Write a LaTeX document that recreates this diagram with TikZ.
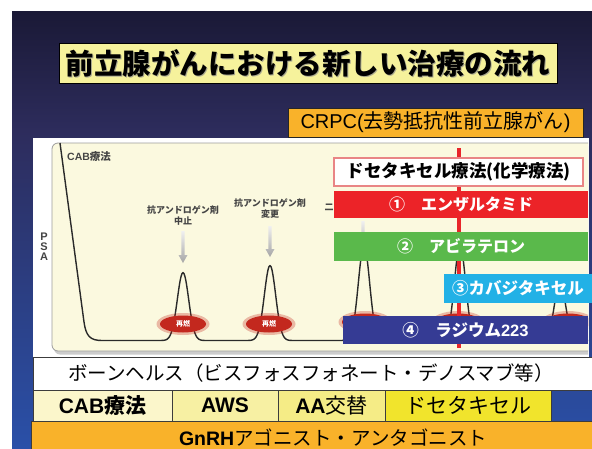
\documentclass[tikz,border=0pt]{standalone}
\usepackage{fontspec}
\setmainfont{Noto Sans CJK JP}
\newfontfamily\jp{Noto Sans CJK JP}
\newfontfamily\lat{Liberation Sans}
\usetikzlibrary{shapes.geometric}
\definecolor{bgA}{HTML}{1A1936}
\definecolor{bgB}{HTML}{2D2C5C}
\definecolor{bgC}{HTML}{2A50A8}
\definecolor{titleY}{HTML}{F6F29C}
\definecolor{crpcO}{HTML}{F9B22A}
\definecolor{creamP}{HTML}{FBF9DF}
\definecolor{panelG}{HTML}{9C9C9C}
\definecolor{curveK}{HTML}{2A2A2A}
\definecolor{relR}{HTML}{C3281E}
\definecolor{lblG}{HTML}{454545}
\definecolor{vRed}{HTML}{E8262A}
\definecolor{docB}{HTML}{E98585}
\definecolor{barR}{HTML}{EC2328}
\definecolor{barG}{HTML}{5AB94B}
\definecolor{barC}{HTML}{22B1E6}
\definecolor{barN}{HTML}{353B94}
\definecolor{cellA}{HTML}{FBF6CB}
\definecolor{cellB}{HTML}{F7F0A3}
\definecolor{cellC}{HTML}{F5EC86}
\definecolor{cellD}{HTML}{F1E42C}
\definecolor{edgeK}{HTML}{3C3C3C}
\newcommand\fsz[2]{\fontsize{#1}{#2}\selectfont}
\newcommand\grayarrow[3]{\shade[top color=gray!12, bottom color=gray!70]
  ({#1-1.7},#2) -- ({#1+1.7},#2) -- ({#1+1.7},{#3-8}) -- ({#1+4.5},{#3-8}) --
  (#1,#3) -- ({#1-4.5},{#3-8}) -- ({#1-1.7},{#3-8}) -- cycle;}
\begin{document}
\begin{tikzpicture}[x=1pt,y=-1pt,
  boxn/.style={rectangle, inner sep=0pt, outer sep=0pt},
  barbox/.style={boxn, text=white, font={\jp\bfseries\fsz{16}{16}}},
  cell/.style={boxn, draw=edgeK, line width=0.8pt, minimum height=31pt, font={\jp\fsz{21}{21}}},
  lbl/.style={font={\jp\bfseries\fsz{9}{11}}, text=lblG, align=center, inner sep=0pt},
  relapse/.style={ellipse, fill=relR, minimum width=46pt, minimum height=17pt, inner sep=0pt, text=white, font={\jp\bfseries\fsz{7}{7}}},
  glow/.style={ellipse, fill=relR, opacity=0.3, minimum width=53pt, minimum height=22pt, inner sep=0pt},
  curve/.style={draw=curveK, line width=1.4pt, line join=round}]
\useasboundingbox (0,0) rectangle (592,448);
\fill[white] (0,0) rectangle (592,448);
% background
\shade[top color=bgA, bottom color=bgB] (12,11) rectangle (592,130.5);
\shade[top color=bgB, bottom color=bgC] (12,130) rectangle (592,448);
% title
\node[boxn, draw=black, line width=1pt, fill=titleY, minimum width=498pt, minimum height=40pt] (title) at (308,63) {};
\node[text=black!45, opacity=0.7, font={\jp\bfseries\fsz{28.5}{28.5}}] (titleshadow) at (309.2,64.4) {前立腺がんにおける新しい治療の流れ};
\node[text=black, font={\jp\bfseries\fsz{28.5}{28.5}}] (titletext) at (title.center) {前立腺がんにおける新しい治療の流れ};
% CRPC
\node[boxn, draw=black!85, line width=1pt, fill=crpcO, minimum width=295pt, minimum height=29pt, font={\jp\fsz{20}{20}}] (crpc) at (435.5,122.5) {{\lat CRPC(}去勢抵抗性前立腺がん{\lat )}};
% white panel
\fill[white] (33,138) rectangle (589,357);
\begin{scope}
\clip (33,138) rectangle (588,357);
\fill[gray!40, rounded corners=6pt] (54,146) rectangle (600,354.5);
\filldraw[fill=creamP, draw=panelG, line width=0.8pt, rounded corners=6pt] (52,143) rectangle (600,351);
\node[anchor=west, inner sep=0pt, text=lblG, font={\bfseries\fsz{10.5}{10.5}}] (cab) at (67,157) {{\lat CAB}療法};
\node[inner sep=0pt, text=lblG, align=center, font={\lat\bfseries\fsz{11}{10}}] (psa) at (44,247) {P\\S\\A};
% PSA curve
\draw[curve] (60,143) -- (84,322) .. controls (86,336) and (90,340.5) .. (102,340.5)
  -- plot[domain=157:209, samples=53, smooth] (\x,{340.5-68*exp(0-((\x-183)/8)*((\x-183)/8))})
  -- plot[domain=244:296, samples=53, smooth] (\x,{340.5-75*exp(0-((\x-270)/8)*((\x-270)/8))})
  -- plot[domain=338:390, samples=53, smooth] (\x,{340.5-95*exp(0-((\x-364)/8)*((\x-364)/8))})
  -- plot[domain=434:486, samples=53, smooth] (\x,{340.5-95*exp(0-((\x-460)/8)*((\x-460)/8))})
  -- plot[domain=534:586, samples=53, smooth] (\x,{340.5-58*exp(0-((\x-560)/8)*((\x-560)/8))})
  -- (600,340.5);
% relapse ellipses
\node[glow] (g1) at (183,324) {};
\node[glow] (g2) at (269,324) {};
\node[glow] (g3) at (365,322) {};
\node[glow] (g4) at (458,322) {};
\node[glow] (g5) at (568,322) {};
\node[relapse] (r1) at (183,324) {再燃};
\node[relapse] (r2) at (269,324) {再燃};
\node[relapse] (r3) at (365,322) {};
\node[relapse] (r4) at (458,322) {};
\node[relapse] (r5) at (568,322) {};
% annotations and arrows
\node[lbl] (l1) at (183,215.5) {抗アンドロゲン剤\\中止};
\node[lbl] (l2) at (270,208.5) {抗アンドロゲン剤\\変更};
\node[lbl] (l3) at (329,207) {二};
\grayarrow{183}{231}{263}
\grayarrow{270}{226}{257}
\grayarrow{363}{221}{252}
\end{scope}
% vertical red line
\coordinate (vt) at (459,148);
\coordinate (vb) at (459,348);
\draw[vRed, line width=3.5pt] (vt) -- (vb);
% treatment bars
\node[boxn, draw=docB, line width=1.2pt, fill=white, minimum width=249pt, minimum height=28pt, font={\jp\bfseries\fsz{17.5}{17.5}}] (doc) at (458.5,172) {ドセタキセル療法(化学療法)};
\node[barbox, fill=barR, minimum width=254pt, minimum height=27pt] (b1) at (461,204.5) {①　エンザルタミド};
\node[barbox, fill=barG, minimum width=254pt, minimum height=29pt] (b2) at (461,246.5) {②　アビラテロン};
\node[barbox, fill=barC, minimum width=148pt, minimum height=29pt, font={\jp\bfseries\fsz{16.5}{16.5}}] (b3) at (518,288.5) {③カバジタキセル};
\node[barbox, fill=barN, minimum width=245pt, minimum height=28pt, font={\jp\bfseries\fsz{16.5}{16.5}}] (b4) at (465.5,330) {④　ラジウム{\lat 223}};
% bottom rows
\node[boxn, draw=edgeK, line width=0.8pt, fill=white, minimum width=570pt, minimum height=33pt] (bone) at (318,373.5) {};
\node[inner sep=0pt, font={\jp\fsz{19.5}{19.5}}] (bonetext) at (311,373) {ボーンヘルス（ビスフォスフォネート・デノスマブ等）};
\node[cell, fill=cellA, minimum width=139pt] (c1) at (102.5,405.5) {{\lat\bfseries CAB}\textbf{療法}};
\node[cell, fill=cellB, minimum width=106pt] (c2) at (225,405.5) {{\lat\bfseries AWS}};
\node[cell, fill=cellC, minimum width=107pt] (c3) at (331.5,405.5) {{\lat\bfseries AA}交替};
\node[cell, fill=cellD, minimum width=166pt] (c4) at (468,405.5) {ドセタキセル};
\filldraw[fill=crpcO, draw=edgeK, line width=0.8pt] (31,421) rectangle (640,470);
\node[inner sep=0pt, font={\jp\fsz{19.5}{19.5}}] (gnrh) at (333,437.5) {{\lat\bfseries GnRH}アゴニスト・アンタゴニスト};
\end{tikzpicture}
\end{document}
